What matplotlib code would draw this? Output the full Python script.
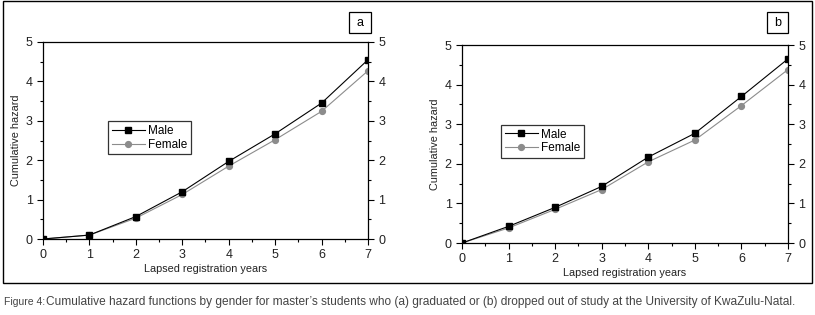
import matplotlib.pyplot as plt
from matplotlib.ticker import MultipleLocator
from matplotlib.patches import Rectangle

plt.rcParams['font.family'] = ['Liberation Sans', 'DejaVu Sans']

# Data
years = [0, 1, 2, 3, 4, 5, 6, 7]
male_a = [0, 0.10, 0.57, 1.20, 1.97, 2.67, 3.45, 4.55]
female_a = [0, 0.10, 0.53, 1.13, 1.85, 2.52, 3.24, 4.27]
male_b = [0, 0.42, 0.90, 1.43, 2.17, 2.77, 3.70, 4.65]
female_b = [0, 0.38, 0.85, 1.35, 2.05, 2.60, 3.47, 4.38]
panel_labels = ["a", "b"]

W, H = 815, 315
fig = plt.figure(figsize=(W / 100, H / 100), dpi=100)

def px_axes(x0, y0, x1, y1):
    return fig.add_axes([x0 / W, 1 - y1 / H, (x1 - x0) / W, (y1 - y0) / H])

# outer frame
fig.patches.append(Rectangle((3 / W, 1 - 283 / H), 809 / W, 282 / H, transform=fig.transFigure,
                             fill=False, edgecolor="black", linewidth=1.0))

panels = [
    (px_axes(43, 42, 368, 239), male_a, female_a, (349, 12, 371, 33), (0.2, 0.43)),
    (px_axes(462, 45, 788, 243), male_b, female_b, (767, 12, 788, 33), (0.12, 0.43)),
]

for (ax, male, female, box, leg_pos), lab in zip(panels, panel_labels):
    ax.plot(years, male, color="black", lw=0.8, marker="s", ms=4.5, label="Male", zorder=3)
    ax.plot(years, female, color="#8c8c8c", lw=0.8, marker="o", ms=4.2, label="Female", zorder=2)
    ax.set_xlim(0, 7)
    ax.set_ylim(0, 5)
    ax.xaxis.set_major_locator(MultipleLocator(1))
    ax.xaxis.set_minor_locator(MultipleLocator(0.5))
    ax.yaxis.set_major_locator(MultipleLocator(1))
    ax.yaxis.set_minor_locator(MultipleLocator(0.5))
    ax.tick_params(which="both", direction="out", right=True, labelright=True, top=False,
                   labelsize=9, width=0.8, colors="black")
    ax.tick_params(which="major", length=4)
    ax.tick_params(which="minor", length=2.5)
    for s in ax.spines.values():
        s.set_linewidth(0.9)
    for t in ax.get_xticklabels() + ax.get_yticklabels():
        t.set_color("#222222")
    ax.set_xlabel("Lapsed registration years", fontsize=7.8, color="#222222", labelpad=2)
    ax.set_ylabel("Cumulative hazard", fontsize=7.8, color="#222222", labelpad=3)
    leg = ax.legend(loc="lower left", bbox_to_anchor=leg_pos, fontsize=8.5, frameon=True,
                    fancybox=False, edgecolor="black", handlelength=2.8, borderpad=0.3,
                    labelspacing=0.15, handletextpad=0.3, borderaxespad=0)
    leg.get_frame().set_linewidth(0.9)

    # panel letter box
    x0, y0, x1, y1 = box
    fig.patches.append(Rectangle((x0 / W, 1 - y1 / H), (x1 - x0) / W, (y1 - y0) / H,
                                 transform=fig.transFigure, fill=False, edgecolor="black", linewidth=0.9))
    fig.text((x0 + x1) / 2 / W, 1 - (y0 + y1) / 2 / H, lab, ha="center", va="center", fontsize=9)

fig.text(4 / W, 1 - 302 / H, "Figure 4:", fontsize=7.5, color="#444444", va="center")
fig.text(46 / W, 1 - 302 / H,
         "Cumulative hazard functions by gender for master\u2019s students who (a) graduated or (b) dropped out of study at the University of KwaZulu-Natal.",
         fontsize=8.55, color="#444444", va="center")

fig.savefig("out.png", dpi=100)
